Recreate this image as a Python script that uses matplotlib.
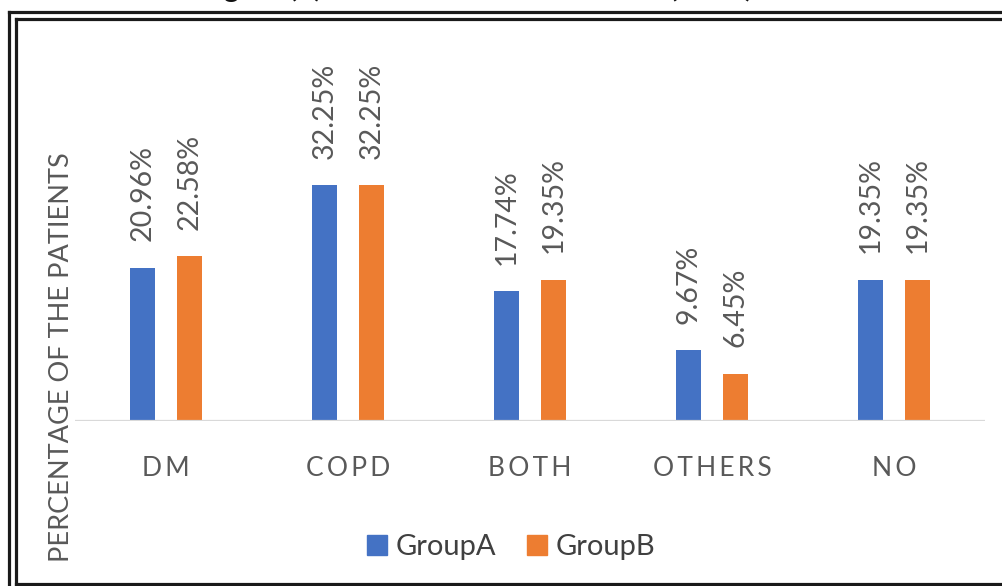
import matplotlib
matplotlib.use("Agg")
import matplotlib.pyplot as plt
from matplotlib.lines import Line2D
from matplotlib.patches import Patch
import numpy as np

plt.rcParams['font.family'] = ['Lato', 'DejaVu Sans']

categories = ['DM', 'COPD', 'BOTH', 'OTHERS', 'NO']
group_a = [20.96, 32.25, 17.74, 9.67, 19.35]
group_b = [22.58, 32.25, 19.35, 6.45, 19.35]
series_names = ['GroupA', 'GroupB']

blue = '#4472C4'
orange = '#ED7D31'
grey = '#595959'

W, H = 1002, 586
fig = plt.figure(figsize=(W / 100, H / 100), dpi=100)


def fx(px):
    return px / W


def fy(py):
    return 1 - py / H


def spaced(s):
    # loose letter spacing like the original
    return '\u2009'.join(s)


# plot area: baseline at 421 px, 7.31 px per percent
ax = fig.add_axes([fx(75), fy(421), fx(910), (421 - 40) / H])
x = np.arange(len(categories))
bw = 0.137
off = 0.129
ba = ax.bar(x - off, group_a, bw, color=blue)
bb = ax.bar(x + off, group_b, bw, color=orange)
ax.set_xlim(-0.5, len(categories) - 0.5)
ax.set_ylim(0, (421 - 40) / 7.31)

for bars, vals in [(ba, group_a), (bb, group_b)]:
    for b, v in zip(bars, vals):
        ax.annotate(f'{v:.2f}%', (b.get_x() + b.get_width() / 2, v),
                    xytext=(0, 19), textcoords='offset points',
                    rotation=90, ha='center', va='bottom',
                    fontsize=20.5, color=grey)

ax.axhline(0, color='#d9d9d9', lw=1.6)
for s in ax.spines.values():
    s.set_visible(False)
ax.set_yticks([])
ax.set_xticks(x)
ax.set_xticklabels([spaced(c) for c in categories], fontsize=19, color=grey)
ax.tick_params(axis='x', length=0, pad=25)

fig.text(fx(62), fy(357), 'PERCENTAGE OF THE PATIENTS',
         rotation=90, ha='center', va='center', fontsize=19.5, color=grey)

handles = [Patch(color=blue), Patch(color=orange)]
fig.legend(handles, series_names, loc='center', bbox_to_anchor=(fx(511), fy(547)),
           ncol=2, frameon=False, fontsize=21, handlelength=0.68, handleheight=0.68,
           handletextpad=0.3, columnspacing=1.05, labelcolor='#404040')

# double frame around the figure
for px in (8.5, 15.5):
    fig.add_artist(Line2D([fx(px), fx(px)], [0, fy(px + 3)], color='#1a1a1a', lw=2.3))
    fig.add_artist(Line2D([fx(px), 1], [fy(px + 3), fy(px + 3)], color='#1a1a1a', lw=2.3))
fig.add_artist(Line2D([fx(15.5), 1], [fy(583.5), fy(583.5)], color='#1a1a1a', lw=2.3))

# caption above, mostly cut off by the crop
fig.text(fx(200), fy(-3), 'Figure (2): Associated comorbidities (n=62)', fontsize=21,
         fontweight='bold', ha='left', va='baseline', color='#111111')

fig.savefig('out.png', dpi=100)
